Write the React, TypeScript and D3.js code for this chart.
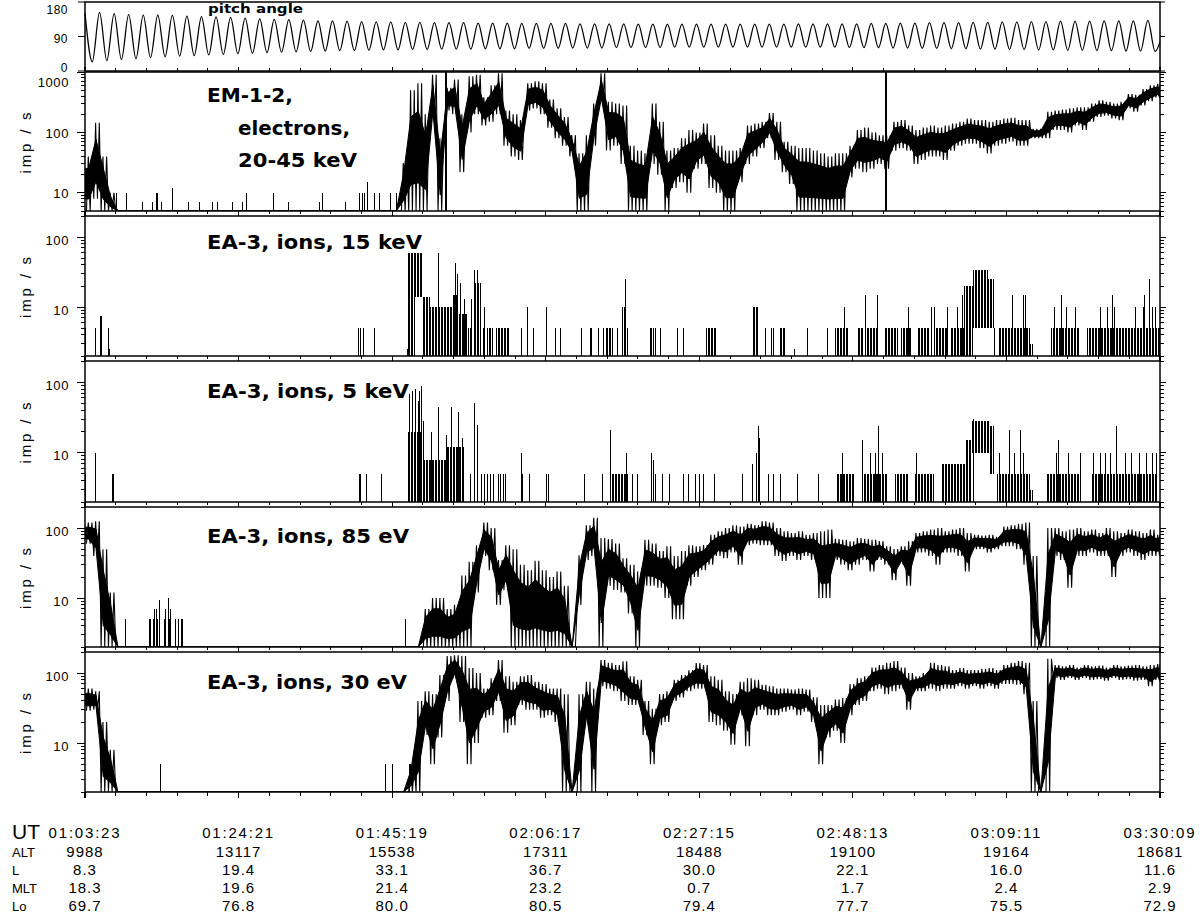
import React from "react";
import * as d3 from "d3";

// ---------- time axis ----------
const T_END = 146.767; // minutes from 01:03:23 to 03:30:09
const timeLabels = ["01:03:23", "01:24:21", "01:45:19", "02:06:17", "02:27:15", "02:48:13", "03:09:11", "03:30:09"];
const altValues = ["9988", "13117", "15538", "17311", "18488", "19100", "19164", "18681"];
const lValues = ["8.3", "19.4", "33.1", "36.7", "30.0", "22.1", "16.0", "11.6"];
const mltValues = ["18.3", "19.6", "21.4", "23.2", "0.7", "1.7", "2.4", "2.9"];
const loValues = ["69.7", "76.8", "80.0", "80.5", "79.4", "77.7", "75.5", "72.9"];

// ---------- pitch angle (extrema per spin, degrees) ----------
const pitchPeriod = 1.9878; // minutes per spin
const pitchPeaks = [151, 153, 150, 147, 146, 146, 145, 143, 142, 141, 140, 138, 136, 135, 134, 133, 131, 131, 130, 129,
  128, 128, 127, 127, 126, 126, 126, 125, 125, 125, 124, 124, 124, 124, 123, 123, 123, 123, 122, 122,
  122, 122, 122, 122, 122, 122, 122, 122, 122, 123, 123, 123, 123, 123, 124, 124, 125, 125, 126, 126,
  126, 127, 127, 128, 128, 129, 129, 130, 130, 130, 131, 131, 131, 132];
const pitchTroughs = [24, 27, 30, 32, 35, 37, 39, 40, 42, 43, 45, 46, 48, 49, 50, 51, 52, 53, 53, 54,
  55, 55, 56, 56, 57, 57, 57, 58, 58, 58, 59, 59, 59, 60, 60, 60, 61, 61, 61, 61,
  62, 62, 62, 62, 62, 62, 62, 62, 62, 62, 62, 62, 61, 61, 61, 60, 60, 59, 59, 58,
  58, 57, 57, 56, 56, 55, 55, 54, 54, 53, 53, 52, 52, 51];
const pitchEndValue = 76;

// ---------- EM-1-2 electrons 20-45 keV : per-minute min / max ----------
const emLo = [1, 8, 1, 1, 1, 1, 1, 1, 1, 1,
  1, 1, 1, 1, 1, 1, 1, 1, 1, 1,
  1, 1, 1, 1, 1, 1, 1, 1, 1, 1,
  1, 1, 1, 1, 1, 1, 1, 1, 1, 1,
  1, 1, 1, 1, 1, 1, 1, 150, 1, 230,
  200, 22, 100, 200, 130, 150, 200, 60, 40, 35,
  230, 250, 200, 120, 80, 60, 40, 1, 1, 60,
  280, 50, 60, 30, 1, 1, 1, 30, 20, 1,
  12, 15, 10, 25, 30, 12, 10, 5, 1, 15,
  30, 40, 55, 80, 35, 22, 14, 1, 1, 1,
  1, 1, 5, 1, 18, 25, 22, 25, 30, 25,
  50, 55, 50, 30, 35, 40, 40, 35, 50, 60,
  65, 65, 55, 45, 60, 65, 70, 60, 60, 80,
  80, 80, 110, 110, 100, 130, 110, 150, 180, 190,
  170, 160, 250, 220, 280, 330, 380];
const emHi = [40, 145, 40, 10, 1, 1, 1, 1, 1, 1,
  1, 1, 1, 1, 1, 1, 1, 1, 1, 1,
  1, 1, 1, 1, 1, 1, 1, 1, 1, 1,
  1, 1, 1, 1, 1, 1, 1, 1, 1, 1,
  1, 1, 1, 31, 500, 650, 200, 900, 80, 550,
  750, 200, 850, 900, 380, 600, 950, 230, 200, 160,
  650, 700, 650, 350, 250, 180, 90, 45, 90, 300,
  950, 320, 300, 280, 60, 50, 45, 300, 150, 50,
  55, 80, 110, 100, 140, 90, 60, 50, 50, 55,
  130, 140, 150, 210, 150, 70, 60, 55, 55, 50,
  45, 40, 45, 45, 60, 110, 120, 100, 90, 90,
  150, 160, 130, 110, 120, 130, 120, 130, 140, 150,
  170, 160, 160, 150, 160, 170, 175, 160, 160, 115,
  115, 220, 230, 240, 250, 260, 260, 300, 340, 320,
  300, 320, 430, 420, 520, 600, 640];
const emSpikes: [number, number][] = [[4.23, 10], [5.54, 10], [7.75, 7], [9.15, 7], [9.64, 10], [9.87, 10], [10.43, 7],
  [11.89, 12], [14.1, 7], [15.51, 7], [17.39, 7], [18.01, 7], [20.12, 7], [21.39, 7], [21.95, 10], [25.72, 10],
  [27.74, 7], [31.97, 7], [32.34, 10], [35.49, 7], [37.38, 10], [37.75, 10], [38.08, 10], [38.55, 15], [39.49, 10],
  [40.19, 10], [41.61, 10], [42.46, 10], [49.17, 1100], [109.2, 1100]];

// ---------- EA-3 ions 15 keV ----------
const ion15Spikes: [number, number][] = [[0, 5], [1.31, 5], [1.98, 7.5], [2.12, 7.5], [3.19, 5], [3.28, 2.5],
  [37.27, 5], [37.61, 5], [37.98, 5], [39.4, 5], [43.96, 2.5], [48.19, 60], [50.51, 42], [50.79, 30], [51.2, 22],
  [51.74, 13], [52.29, 5], [52.5, 5], [52.7, 13], [53.11, 34], [53.52, 34], [54.34, 5], [54.54, 10], [54.88, 5],
  [55.09, 5], [55.29, 5], [55.57, 5], [59.47, 5], [60.41, 10], [61.16, 5], [62.9, 10], [64.17, 5], [64.85, 5],
  [67.72, 5], [68.88, 5], [69.08, 5], [70.04, 5], [70.72, 5], [72.63, 5], [73.32, 10], [73.59, 10], [73.73, 25],
  [73.93, 5], [77.14, 5], [77.34, 5], [77.55, 5], [77.82, 5], [78.5, 5], [80.82, 5], [81.64, 5], [91.61, 10],
  [92.84, 5], [93.66, 5], [93.93, 5], [96.8, 2.5], [98.58, 5], [101.37, 5], [103.62, 10], [106.49, 15],
  [108.13, 15], [112.36, 10], [115.5, 10], [115.91, 10], [117.69, 10], [119.01, 10], [119.7, 15], [126.56, 15],
  [128.06, 15], [128.33, 15], [132.3, 10], [133.25, 15], [133.93, 10], [135.16, 10], [138.58, 10], [139.53, 10],
  [140.21, 15], [140.49, 10], [143.36, 10], [144.45, 10], [144.58, 15], [145.27, 25], [145.68, 10], [146.09, 10]];
// [from min, to min, low, high] stretches of dense counts
const ion15Blocks: [number, number, number, number][] = [[44.1, 45.0, 1, 60], [45.0, 46.1, 14, 60], [46.1, 47.1, 1, 14],
  [47.1, 50.1, 1, 10], [50.1, 51.1, 1, 15], [51.1, 52.1, 1, 8], [53.1, 54.1, 1, 22], [56.1, 57.9, 1, 5],
  [71.1, 72.1, 1, 5], [84.8, 86.2, 1, 5], [91.1, 92.0, 1, 10], [94.9, 95.6, 1, 5], [102.4, 104.3, 1, 5],
  [105.4, 106.2, 1, 5], [106.5, 108.1, 1, 5], [109.1, 111.0, 1, 5], [111.4, 112.9, 1, 5], [113.6, 115.2, 1, 5],
  [115.9, 117.8, 1, 5], [118.1, 120.0, 1, 5], [120.0, 121.2, 1, 20], [121.2, 123.3, 5, 34], [123.3, 124.1, 5, 25],
  [124.1, 124.4, 1, 5], [124.8, 129.0, 1, 5], [129.0, 129.4, 1, 3], [131.9, 135.7, 1, 5], [136.8, 146.767, 1, 5]];

// ---------- EA-3 ions 5 keV ----------
const ion5Spikes: [number, number][] = [[0, 5], [1.31, 5], [1.41, 10], [3.67, 5], [3.77, 5], [37.41, 5], [37.61, 5],
  [38.31, 5], [40.41, 5], [44.23, 67], [44.64, 75], [45.05, 80], [45.4, 55], [45.6, 75], [45.82, 88], [46.08, 28],
  [47.24, 20], [48.19, 45], [49.29, 18], [49.97, 45], [50.99, 38], [51.47, 16], [52.56, 5], [53.11, 50], [53.52, 25],
  [54.06, 5], [54.47, 5], [54.88, 5], [55.29, 5], [55.7, 5], [56.32, 5], [56.66, 5], [57.07, 5], [57.34, 5],
  [59.47, 10], [59.66, 5], [60.62, 5], [62.94, 5], [63.21, 5], [68.13, 5], [70.58, 5], [71.68, 21], [73.86, 10],
  [74.68, 5], [75.32, 5], [77.27, 10], [77.55, 8], [77.82, 5], [78.78, 5], [79.73, 5], [81.59, 5], [82.33, 5],
  [83.28, 5], [83.76, 5], [84.37, 5], [85.88, 5], [89.7, 5], [91.06, 7], [91.55, 10], [91.92, 24], [92.02, 16],
  [93.25, 5], [93.93, 5], [94.89, 5], [97.15, 5], [100.07, 5], [103.35, 10], [106.03, 15], [107.17, 10],
  [107.86, 10], [108.27, 24], [108.82, 10], [113.52, 10], [121.23, 30], [124.79, 10], [126.15, 21], [126.9, 10],
  [127.65, 21], [128.06, 10], [132.57, 10], [132.84, 15], [134.21, 10], [135.84, 10], [137.62, 10], [138.58, 10],
  [139.26, 10], [139.94, 10], [140.76, 24], [141.99, 10], [142.81, 10], [143.9, 10], [144.86, 10], [145.68, 10],
  [146.23, 10]];
const ion5Blocks: [number, number, number, number][] = [[44.1, 46.2, 1, 20], [46.2, 49.3, 1, 8], [49.3, 51.7, 1, 12],
  [71.9, 74.1, 1, 5], [102.7, 105.1, 1, 5], [106.1, 109.6, 1, 5], [110.6, 112.4, 1, 5], [113.3, 115.9, 1, 5],
  [116.9, 120.1, 1, 7], [120.1, 121.1, 1, 15], [121.1, 123.6, 10, 28], [123.6, 124.1, 5, 24], [124.5, 129.0, 1, 5],
  [129.0, 129.4, 1, 3], [131.2, 135.8, 1, 5], [137.3, 146.4, 1, 5]];

// ---------- EA-3 ions 85 eV ----------
const ion85Lo = [60, 40, 1, 1, 1, 1, 1, 1, 1, 1,
  1, 1, 1, 1, 1, 1, 1, 1, 1, 1,
  1, 1, 1, 1, 1, 1, 1, 1, 1, 1,
  1, 1, 1, 1, 1, 1, 1, 1, 1, 1,
  1, 1, 1, 1, 1, 1, 1, 1, 1, 1,
  1, 1, 1, 12, 40, 25, 8, 13, 1, 1,
  1, 1, 1, 1, 1, 1, 1, 8, 35, 40,
  1, 15, 13, 12, 6, 1, 15, 15, 14, 10,
  5, 5, 15, 20, 25, 30, 40, 37, 45, 30,
  57, 60, 57, 57, 40, 34, 40, 35, 40, 35,
  10, 10, 35, 30, 25, 30, 35, 24, 35, 30,
  18, 30, 15, 45, 45, 40, 30, 45, 45, 40,
  24, 50, 50, 45, 50, 55, 55, 50, 30, 1,
  1, 1, 40, 35, 14, 40, 40, 45, 40, 40,
  20, 40, 45, 40, 35, 40, 40];
const ion85Hi = [120, 125, 50, 12, 1, 1, 1, 1, 1, 1,
  1, 1, 1, 1, 1, 1, 1, 1, 1, 1,
  1, 1, 1, 1, 1, 1, 1, 1, 1, 1,
  1, 1, 1, 1, 1, 1, 1, 1, 1, 1,
  1, 1, 1, 1, 1, 1, 7, 10, 10, 7,
  8, 21, 33, 57, 120, 100, 35, 57, 50, 30,
  25, 34, 25, 20, 24, 15, 1, 41, 110, 140,
  72, 70, 60, 37, 30, 24, 68, 60, 47, 55,
  40, 47, 57, 55, 57, 80, 90, 100, 110, 105,
  115, 110, 125, 120, 100, 90, 85, 90, 80, 85,
  90, 95, 70, 68, 65, 72, 70, 68, 65, 55,
  50, 55, 65, 85, 90, 95, 100, 90, 95, 100,
  85, 80, 78, 80, 75, 105, 110, 115, 120, 40,
  1, 100, 100, 90, 95, 100, 90, 95, 85, 100,
  90, 85, 95, 90, 85, 95, 80];
const ion85Spikes: [number, number][] = [[5.46, 5], [8.7, 5], [8.93, 5], [9.26, 5], [9.41, 7], [9.64, 7], [9.87, 5],
  [10.1, 9.5], [10.72, 5], [10.92, 7], [11.28, 10], [11.47, 5], [11.66, 7], [12.31, 5], [12.7, 5], [13.06, 5],
  [13.24, 5], [43.69, 5]];

// ---------- EA-3 ions 30 eV ----------
const ion30Lo = [29, 30, 1, 1, 1, 1, 1, 1, 1, 1,
  1, 1, 1, 1, 1, 1, 1, 1, 1, 1,
  1, 1, 1, 1, 1, 1, 1, 1, 1, 1,
  1, 1, 1, 1, 1, 1, 1, 1, 1, 1,
  1, 1, 1, 1, 1, 1, 13, 5, 12, 40,
  84, 20, 5, 10, 23, 25, 40, 14, 18, 35,
  30, 30, 23, 25, 20, 1, 1, 1, 18, 1,
  65, 60, 55, 40, 35, 35, 13, 5, 18, 20,
  40, 45, 55, 60, 60, 20, 18, 15, 9.5, 25,
  9, 25, 30, 25, 25, 28, 30, 25, 28, 20,
  5, 12, 15, 10, 25, 35, 40, 55, 60, 50,
  55, 60, 30, 55, 55, 60, 55, 60, 60, 65,
  60, 65, 60, 65, 60, 70, 70, 68, 50, 1,
  1, 1, 85, 80, 85, 80, 85, 80, 82, 78,
  85, 80, 82, 78, 80, 65, 80];
const ion30Hi = [60, 55, 20, 8, 1, 1, 1, 1, 1, 1,
  1, 1, 1, 1, 1, 1, 1, 1, 1, 1,
  1, 1, 1, 1, 1, 1, 1, 1, 1, 1,
  1, 1, 1, 1, 1, 1, 1, 1, 1, 1,
  1, 1, 1, 1, 5, 40, 55, 50, 94, 175,
  180, 175, 118, 100, 60, 84, 154, 90, 75, 90,
  94, 75, 70, 60, 60, 50, 1, 50, 75, 60,
  154, 140, 130, 148, 90, 80, 40, 31, 50, 55,
  80, 94, 110, 139, 130, 90, 80, 55, 50, 75,
  84, 80, 68, 65, 60, 60, 58, 60, 58, 45,
  35, 35, 42, 44, 70, 84, 90, 120, 130, 140,
  148, 120, 100, 90, 100, 140, 130, 125, 110, 118,
  110, 110, 115, 118, 110, 130, 140, 148, 140, 40,
  1, 160, 130, 125, 130, 120, 130, 125, 128, 120,
  130, 125, 128, 130, 125, 130, 135];
const ion30Spikes: [number, number][] = [[10.24, 5], [40.9, 5], [41.98, 5], [44.19, 5]];

// ---------- layout ----------
const X0 = 85;
const X1 = 1160;
const FONT_THIN = "'Liberation Sans', 'DejaVu Sans', sans-serif";
const FONT_BOLD = "'DejaVu Sans', 'Liberation Sans', sans-serif";
const CORE = 0.22; // share of each minute's log-range trimmed from each side for the solid core

type Panel = {
  top: number; bottom: number; domain: [number, number]; labels: number[];
  titles: { text: string; x: number; y: number; len: number }[];
  lo?: number[]; hi?: number[]; spikes: [number, number][]; blocks?: [number, number, number, number][];
};

const panels: Panel[] = [
  { top: 72, bottom: 211, domain: [5, 1000], labels: [10, 100, 1000],
    titles: [{ text: "EM-1-2,", x: 207, y: 102, len: 86 }, { text: "electrons,", x: 238, y: 135, len: 112 }, { text: "20-45 keV", x: 238, y: 167, len: 119 }],
    lo: emLo, hi: emHi, spikes: emSpikes },
  { top: 216, bottom: 356, domain: [2, 200], labels: [10, 100],
    titles: [{ text: "EA-3, ions, 15 keV", x: 207, y: 249, len: 215 }], spikes: ion15Spikes, blocks: ion15Blocks },
  { top: 361, bottom: 502, domain: [2, 200], labels: [10, 100],
    titles: [{ text: "EA-3, ions, 5 keV", x: 207, y: 398, len: 202 }], spikes: ion5Spikes, blocks: ion5Blocks },
  { top: 507, bottom: 647, domain: [2, 200], labels: [10, 100],
    titles: [{ text: "EA-3, ions, 85 eV", x: 207, y: 543, len: 202 }], lo: ion85Lo, hi: ion85Hi, spikes: ion85Spikes },
  { top: 652, bottom: 792, domain: [2, 200], labels: [10, 100],
    titles: [{ text: "EA-3, ions, 30 eV", x: 207, y: 689, len: 200 }], lo: ion30Lo, hi: ion30Hi, spikes: ion30Spikes },
];

function logTicks(lo: number, hi: number) {
  const out: { v: number; major: boolean }[] = [];
  for (let e = Math.floor(Math.log10(lo)); e <= Math.ceil(Math.log10(hi)); e++) {
    for (let m = 1; m <= 9; m++) {
      const v = m * Math.pow(10, e);
      if (v >= lo * 0.999 && v <= hi * 1.001) out.push({ v, major: m === 1 });
    }
  }
  return out;
}

type Bin = { t: number; y0: number; y1: number };

export default function App() {
  const x = d3.scaleLinear().domain([0, T_END]).range([X0, X1]);
  const majorT = d3.range(8).map((k) => (k * T_END) / 7);
  const minorT = d3.range(36).map((k) => (k * T_END) / 35);

  // pitch panel
  const pTop = 2, pBottom = 71;
  const yp = d3.scaleLinear().domain([0, 180]).range([pBottom, pTop]);
  const pitchPts: [number, number][] = [];
  pitchPeaks.forEach((pk, k) => {
    pitchPts.push([k * pitchPeriod, pk]);
    pitchPts.push([(k + 0.5) * pitchPeriod, pitchTroughs[k]]);
  });
  pitchPts.push([T_END, pitchEndValue]);
  const pitchPath = d3.line<[number, number]>().x((d) => x(d[0])).y((d) => yp(d[1])).curve(d3.curveMonotoneX)(pitchPts) || "";

  const xTicks = (yBase: number, dir: number, maj: number, min: number) => (
    <g shapeRendering="crispEdges">
      {minorT.map((t, i) => (
        <line key={"m" + i} x1={x(t)} x2={x(t)} y1={yBase} y2={yBase + dir * min} stroke="#000" strokeWidth={1} />
      ))}
      {majorT.map((t, i) => (
        <line key={"M" + i} x1={x(t)} x2={x(t)} y1={yBase} y2={yBase + dir * maj} stroke="#000" strokeWidth={1.2} />
      ))}
    </g>
  );

  return (
    <svg width={1200} height={917} style={{ position: "absolute", left: 0, top: 0, background: "#fff" }}>
      <defs>
        <pattern id="dense" width={3} height={4} patternUnits="userSpaceOnUse">
          <rect x={0} y={0} width={2} height={4} fill="#000" />
        </pattern>
      </defs>
      <rect x={0} y={0} width={1200} height={917} fill="#fff" />
      {/* ---- pitch angle panel ---- */}
      <g>
        <path d={pitchPath} fill="none" stroke="#000" strokeWidth={1.25} />
        <rect x={X0} y={pTop} width={X1 - X0} height={pBottom - pTop} fill="none" stroke="#000" strokeWidth={1.5} />
        {xTicks(pBottom, -1, 4, 3)}
        {[0, 90, 180].map((v) => (
          <g key={v}>
            <line x1={X0 - 7} x2={X0} y1={yp(v)} y2={yp(v)} stroke="#000" strokeWidth={1} />
            <line x1={X1} x2={X1 + 5} y1={yp(v)} y2={yp(v)} stroke="#000" strokeWidth={1} />
            <text x={68} y={v === 180 ? yp(v) + 12 : v === 0 ? yp(v) + 1 : yp(v) + 6} textAnchor="end"
              fontFamily={FONT_THIN} fontSize={12} letterSpacing={0.5}>{v}</text>
          </g>
        ))}
        <text x={208} y={13} fontFamily={FONT_BOLD} fontWeight="bold" fontSize={12} textLength={95} lengthAdjust="spacingAndGlyphs">pitch angle</text>
      </g>

      {/* ---- count-rate panels ---- */}
      {panels.map((p, pi) => {
        const y = d3.scaleLog().domain(p.domain).range([p.bottom, p.top]).clamp(true);
        let core = "";
        let saw = "";
        if (p.lo && p.hi) {
          const lo = p.lo, hi = p.hi, n = lo.length;
          // solid core of each minute's range (drawn in pixel space), plus a saw stroke out to the min / max
          const bins: Bin[] = lo.map((l, i) => {
            const a = y(l), b = y(hi[i]);
            return { t: i + 0.5, y0: a - (a - b) * CORE, y1: b + (a - b) * CORE };
          });
          bins.unshift({ t: 0, y0: bins[0].y0, y1: bins[0].y1 });
          bins.push({ t: T_END, y0: bins[n - 1].y0, y1: bins[n - 1].y1 });
          core = d3.area<Bin>().x((d) => x(d.t)).y0((d) => d.y0).y1((d) => d.y1).curve(d3.curveLinear)(bins) || "";
          const pts: [number, number][] = [];
          lo.forEach((l, i) => {
            pts.push([i + 0.2, l], [i + 0.45, hi[i]], [i + 0.7, l], [Math.min(i + 0.95, T_END), hi[i]]);
          });
          saw = d3.line<[number, number]>().x((d) => x(d[0])).y((d) => y(d[1]))(pts) || "";
        }
        const ticks = logTicks(p.domain[0], p.domain[1]);
        const mid = (p.top + p.bottom) / 2;
        const isLast = pi === panels.length - 1;
        return (
          <g key={pi}>
            <defs>
              <clipPath id={"clip" + pi}>
                <rect x={X0} y={p.top} width={X1 - X0} height={p.bottom - p.top} />
              </clipPath>
            </defs>
            <g clipPath={`url(#clip${pi})`}>
              {core && <path d={core} fill="#000" stroke="#000" strokeWidth={1} />}
              {saw && <path d={saw} fill="none" stroke="#000" strokeWidth={1.1} />}
              {(p.blocks || []).map((b, i) => (
                <rect key={"b" + i} x={x(b[0])} width={Math.max(1, x(b[1]) - x(b[0]))} y={y(b[3])}
                  height={Math.max(1, y(b[2]) - y(b[3]))} fill="url(#dense)" shapeRendering="crispEdges" />
              ))}
              {p.spikes.map((s, i) => (
                <line key={"s" + i} x1={Math.round(x(s[0])) + 0.5} x2={Math.round(x(s[0])) + 0.5} y1={p.bottom} y2={y(s[1])}
                  stroke="#000" strokeWidth={s[1] > 500 ? 2 : 1} shapeRendering="crispEdges" />
              ))}
            </g>
            <rect x={X0} y={p.top} width={X1 - X0} height={p.bottom - p.top} fill="none" stroke="#000" strokeWidth={1.5} />
            {xTicks(p.bottom, 1, isLast ? 6 : 4.5, isLast ? 4 : 3)}
            <g shapeRendering="crispEdges">
              {ticks.map((t, i) => (
                <g key={"t" + i}>
                  <line x1={X0 - (t.major ? 8 : 4)} x2={X0} y1={y(t.v)} y2={y(t.v)} stroke="#000" strokeWidth={1} />
                  <line x1={X1} x2={X1 + (t.major ? 6 : 4)} y1={y(t.v)} y2={y(t.v)} stroke="#000" strokeWidth={1} />
                </g>
              ))}
            </g>
            {p.labels.map((v) => (
              <text key={"l" + v} x={69} y={(v === p.domain[1] ? y(v) + 10 : y(v) + (pi === 0 ? 1 : 3)) + 4.5}
                textAnchor="end" fontFamily={FONT_THIN} fontSize={13} letterSpacing={0.6}>{v}</text>
            ))}
            <text transform={`translate(31,${mid}) rotate(-90)`} textAnchor="middle" fontFamily={FONT_THIN}
              fontSize={15} letterSpacing={2.8}>imp / s</text>
            {p.titles.map((tt, i) => (
              <text key={"tt" + i} x={tt.x} y={tt.y} fontFamily={FONT_BOLD} fontWeight="bold" fontSize={20}
                textLength={tt.len} lengthAdjust="spacingAndGlyphs">{tt.text}</text>
            ))}
          </g>
        );
      })}

      {/* ---- ephemeris table ---- */}
      <g fontFamily={FONT_THIN} fill="#000">
        <text x={12} y={839} fontSize={21}>UT</text>
        <text x={12} y={857} fontSize={13}>ALT</text>
        <text x={12} y={875} fontSize={13}>L</text>
        <text x={12} y={893} fontSize={13}>MLT</text>
        <text x={12} y={911} fontSize={13}>Lo</text>
        {majorT.map((t, i) => (
          <g key={"row" + i}>
            <text x={x(t)} y={838} textAnchor="middle" fontSize={15} letterSpacing={1.8}>{timeLabels[i]}</text>
            <text x={x(t)} y={857} textAnchor="middle" fontSize={15} letterSpacing={1}>{altValues[i]}</text>
            <text x={x(t)} y={875} textAnchor="middle" fontSize={15} letterSpacing={1}>{lValues[i]}</text>
            <text x={x(t)} y={893} textAnchor="middle" fontSize={15} letterSpacing={1}>{mltValues[i]}</text>
            <text x={x(t)} y={911} textAnchor="middle" fontSize={15} letterSpacing={1}>{loValues[i]}</text>
          </g>
        ))}
      </g>
    </svg>
  );
}
